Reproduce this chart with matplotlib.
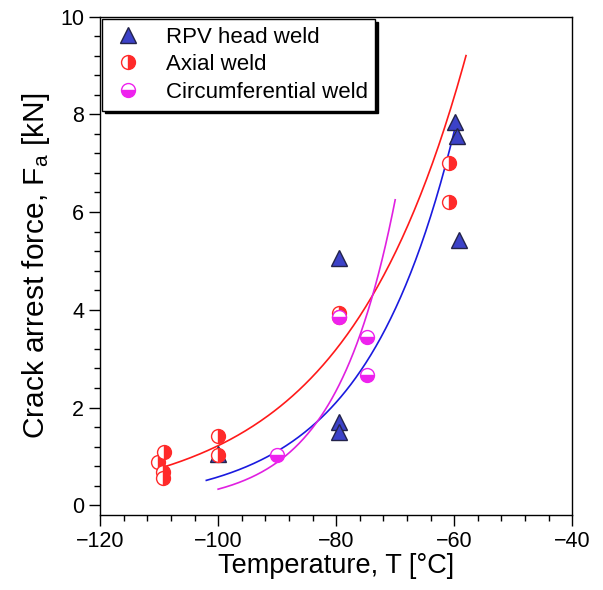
import numpy as np
import matplotlib
matplotlib.use("Agg")
import matplotlib.pyplot as plt
from matplotlib.ticker import MultipleLocator

plt.rcParams['font.family'] = ['Liberation Sans', 'DejaVu Sans']
plt.rcParams['mathtext.fontset'] = 'custom'
plt.rcParams['mathtext.rm'] = 'Liberation Sans'
plt.rcParams['mathtext.it'] = 'Liberation Sans'

# data
rpv_T = [-100, -79.5, -79.5, -79.5, -59.8, -59.6, -59.2]
rpv_F = [1.05, 5.05, 1.70, 1.50, 7.85, 7.55, 5.43]

axial_T = [-110.2, -109.2, -109.3, -109.3, -100.1, -100.1, -79.6, -79.6, -60.8, -60.8]
axial_F = [0.88, 1.10, 0.68, 0.56, 1.41, 1.02, 3.93, 3.86, 7.00, 6.20]

circ_T = [-90, -74.7, -74.7, -79.6]
circ_F = [1.02, 3.44, 2.66, 3.85]

# exponential fits, given by their end points (T0, F0, T1, F1)
fit_axial = (-109.3, 0.78, -58.0, 9.2)
fit_rpv = (-102.0, 0.51, -60.0, 7.65)
fit_circ = (-100.0, 0.33, -70.0, 6.25)


def exp_curve(p):
    t0, f0, t1, f1 = p
    b = np.log(f1 / f0) / (t1 - t0)
    t = np.linspace(t0, t1, 200)
    return t, f0 * np.exp(b * (t - t0))


fig = plt.figure(figsize=(6.03, 5.90), dpi=100)
ax = fig.add_axes([0.166, 0.127, 0.783, 0.845])

t, f = exp_curve(fit_axial)
ax.plot(t, f, color='#ff1a1a', lw=1.2)
t, f = exp_curve(fit_rpv)
ax.plot(t, f, color='#1a1adf', lw=1.2)
t, f = exp_curve(fit_circ)
ax.plot(t, f, color='#e020e0', lw=1.2)

ax.plot(rpv_T, rpv_F, ls='none', marker='^', ms=11.5, mfc='#3c42c8',
        mec='#23234a', mew=1.0, label='RPV head weld')
ax.plot(axial_T, axial_F, ls='none', marker='o', ms=10, fillstyle='right',
        mfc='#ff2a2a', mfcalt='white', mec='#ff2a2a', mew=1.0, label='Axial weld')
ax.plot(circ_T, circ_F, ls='none', marker='o', ms=10, fillstyle='bottom',
        mfc='#ee22ee', mfcalt='white', mec='#ee22ee', mew=1.0,
        label='Circumferential weld')

ax.set_xlim(-120, -40)
ax.set_ylim(-0.2, 10)
ax.xaxis.set_major_locator(MultipleLocator(20))
ax.xaxis.set_minor_locator(MultipleLocator(4))
ax.yaxis.set_major_locator(MultipleLocator(2))
ax.yaxis.set_minor_locator(MultipleLocator(0.4))
ax.tick_params(which='major', direction='out', length=8, width=1, labelsize=15.5)
ax.tick_params(which='minor', direction='out', length=4, width=1)
for s in ax.spines.values():
    s.set_linewidth(1.0)

ax.set_xlabel('Temperature, T [°C]', fontsize=19.5, labelpad=1)
ax.set_ylabel(r'Crack arrest force, F$_{\mathrm{a}}$ [kN]', fontsize=21.5, labelpad=6)

leg = ax.legend(loc='upper left', fontsize=16, frameon=True, fancybox=False,
                shadow={'color': 'black', 'alpha': 1}, borderaxespad=0.1,
                handletextpad=0.9, borderpad=0.35, labelspacing=0.3,
                handlelength=1.6)
leg.get_frame().set_edgecolor('black')
leg.get_frame().set_linewidth(1.0)

fig.savefig('out.png', dpi=100)
